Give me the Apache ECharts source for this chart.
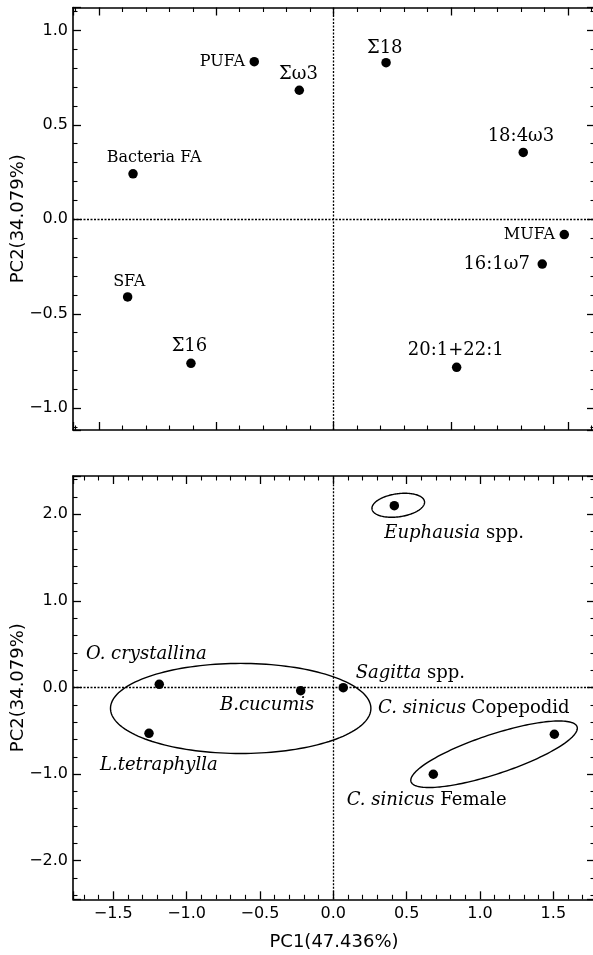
<!DOCTYPE html>
<html><head><meta charset="utf-8">
<script src="https://cdn.jsdelivr.net/npm/echarts@6/dist/echarts.min.js"></script>
<style>html,body{margin:0;padding:0;background:#fff}#c{width:593px;height:955px}</style>
</head><body><div id="c"></div>
<script>
// ---- Loadings (upper panel) ----
const loadingNames = ['PUFA', 'Σω3', 'Σ18', '18:4ω3', 'Bacteria FA', 'SFA', 'Σ16', 'MUFA', '16:1ω7', '20:1+22:1'];
const loadingPC1 = [-0.338, -0.146, 0.224, 0.809, -0.855, -0.878, -0.608, 0.984, 0.890, 0.525];
const loadingPC2 = [0.834, 0.683, 0.829, 0.354, 0.241, -0.411, -0.762, -0.081, -0.237, -0.783];

// ---- Scores (lower panel) ----
const speciesNames = ['Euphausia spp.', 'O. crystallina', 'L.tetraphylla', 'B.cucumis', 'Sagitta spp.', 'C. sinicus Copepodid', 'C. sinicus Female'];
const speciesPC1 = [0.416, -1.186, -1.256, -0.222, 0.068, 1.507, 0.682];
const speciesPC2 = [2.099, 0.037, -0.529, -0.037, -0.002, -0.540, -1.002];

// group ellipses: centre and two semi-axis vectors (PC units)
const ellipseCX = [0.443, -0.631, 1.096];
const ellipseCY = [2.104, -0.242, -0.771];
const ellipseAX = [0.179, 0.8875, 0.566];
const ellipseAY = [0.043, 0, 0.317];
const ellipseBX = [0.011, 0, 0.042];
const ellipseBY = [-0.132, 0.52, -0.217];

// axis tick label values
const xTickLabels = [-1.5, -1.0, -0.5, 0.0, 0.5, 1.0, 1.5];
const yTickLabelsTop = [-1.0, -0.5, 0.0, 0.5, 1.0];
const yTickLabelsBottom = [-2.0, -1.0, 0.0, 1.0, 2.0];

// ---- label layout (kept separate from data) ----
const loadingLabelAlign = ['right', 'center', 'center', 'center', 'center', 'center', 'center', 'right', 'right', 'center'];
const loadingLabelOffset = [[-9.3, 0], [-0.8, -16], [-1.3, -14.7], [-2.3, -15.6], [21, -16.2], [1.6, -15], [-1.5, -16.6], [-9.3, 0], [-12.3, 0], [-0.9, -16.5]];
const loadingLabelSize = [16, 18, 18, 18, 16, 16, 18, 16, 18, 18];
const speciesLabelRich = ['{i|Euphausia} spp.', '{i|O. crystallina}', '{i|L.tetraphylla}', '{i|B.cucumis}', '{i|Sagitta} spp.', '{i|C. sinicus} Copepodid', '{i|C. sinicus} Female'];
const speciesLabelOffset = [[-10, 27.5], [-73.3, -30], [-49, 32], [-80.7, 15], [12.4, -14.7], [-176.3, -26], [-86.6, 25.7]];

const SANS = 'DejaVu Sans';
const SERIF = 'DejaVu Serif';

function fmtTick(allowed) {
  return function (v) {
    for (const a of allowed) {
      if (Math.abs(a - v) < 1e-6) {
        return (v < -1e-9 ? '\u2212' : '') + Math.abs(v).toFixed(1);
      }
    }
    return '';
  };
}

function axisCommon(extra) {
  return Object.assign({
    type: 'value',
    axisLine: { show: true, onZero: false, lineStyle: { color: '#000', width: 1.6 } },
    axisTick: { show: true, inside: true, length: 8, lineStyle: { color: '#000', width: 1.3 } },
    minorTick: { show: true, splitNumber: 5, length: 4.5, lineStyle: { color: '#000', width: 1.1 } },
    splitLine: { show: false },
    minorSplitLine: { show: false },
    axisLabel: { show: false }
  }, extra);
}

const labelStyle = { color: '#000', fontFamily: SANS, fontSize: 16 };

const xAxes = [
  axisCommon({ gridIndex: 0, position: 'bottom', min: -1.111, max: 1.115, splitNumber: 5 }),
  axisCommon({ gridIndex: 0, position: 'top', min: -1.111, max: 1.115, splitNumber: 5 }),
  axisCommon({ gridIndex: 1, position: 'bottom', min: -1.774, max: 1.784, splitNumber: 7,
    axisLabel: Object.assign({ show: true, margin: 7, formatter: fmtTick(xTickLabels), showMinLabel: false, showMaxLabel: false }, labelStyle),
    name: 'PC1(47.436%)', nameLocation: 'middle', nameGap: 34, nameMoveOverlap: false,
    nameTextStyle: { color: '#000', fontFamily: SANS, fontSize: 18 } }),
  axisCommon({ gridIndex: 1, position: 'top', min: -1.774, max: 1.784, splitNumber: 7 })
];

const yAxes = [
  axisCommon({ gridIndex: 0, position: 'left', min: -1.115, max: 1.121, splitNumber: 5,
    axisLabel: Object.assign({ show: true, margin: 5, formatter: fmtTick(yTickLabelsTop), showMinLabel: false, showMaxLabel: false }, labelStyle),
    name: 'PC2(34.079%)', nameLocation: 'middle', nameGap: 46, nameMoveOverlap: false,
    nameTextStyle: { color: '#000', fontFamily: SANS, fontSize: 18 } }),
  axisCommon({ gridIndex: 0, position: 'right', min: -1.115, max: 1.121, splitNumber: 5 }),
  axisCommon({ gridIndex: 1, position: 'left', min: -2.446, max: 2.442, splitNumber: 5,
    axisLabel: Object.assign({ show: true, margin: 5, formatter: fmtTick(yTickLabelsBottom), showMinLabel: false, showMaxLabel: false }, labelStyle),
    name: 'PC2(34.079%)', nameLocation: 'middle', nameGap: 46, nameMoveOverlap: false,
    nameTextStyle: { color: '#000', fontFamily: SANS, fontSize: 18 } }),
  axisCommon({ gridIndex: 1, position: 'right', min: -2.446, max: 2.442, splitNumber: 5 })
];

const zeroLines = {
  silent: true, symbol: ['none', 'none'], animation: false,
  label: { show: false },
  lineStyle: { color: '#000', type: [2, 1.5], width: 1.3, opacity: 1 },
  data: [{ xAxis: 0 }, { yAxis: 0 }]
};

const loadingData = loadingNames.map((n, i) => ({
  name: n,
  value: [loadingPC1[i], loadingPC2[i]],
  label: {
    show: true, position: 'inside', formatter: n,
    align: loadingLabelAlign[i], verticalAlign: 'middle',
    offset: loadingLabelOffset[i],
    fontSize: loadingLabelSize[i], fontFamily: SERIF, color: '#000'
  }
}));

const speciesData = speciesNames.map((n, i) => ({
  name: n,
  value: [speciesPC1[i], speciesPC2[i]],
  label: {
    show: true, position: 'inside', formatter: speciesLabelRich[i],
    align: 'left', verticalAlign: 'middle',
    offset: speciesLabelOffset[i],
    fontSize: 18, fontFamily: SERIF, color: '#000',
    rich: { i: { fontStyle: 'italic', fontSize: 18, fontFamily: SERIF, color: '#000' } }
  }
}));

const ellipseData = ellipseCX.map((c, i) => [c, ellipseCY[i], ellipseAX[i], ellipseAY[i], ellipseBX[i], ellipseBY[i]]);

const chart = echarts.init(document.getElementById('c'), null, { renderer: 'canvas' });
chart.setOption({
  animation: false,
  backgroundColor: '#fff',
  grid: [
    { left: 73, top: 7.5, width: 522, height: 422.5, containLabel: false, outerBoundsMode: 'none' },
    { left: 73, top: 476, width: 522, height: 423.3, containLabel: false, outerBoundsMode: 'none' }
  ],
  xAxis: xAxes,
  yAxis: yAxes,
  series: [
    {
      type: 'scatter', xAxisIndex: 0, yAxisIndex: 0,
      symbol: 'circle', symbolSize: 9.5,
      itemStyle: { color: '#000', opacity: 1 },
      data: loadingData,
      markLine: zeroLines,
      z: 3
    },
    {
      type: 'custom', xAxisIndex: 2, yAxisIndex: 2,
      dimensions: ['cx', 'cy', 'ax', 'ay', 'bx', 'by'],
      encode: { x: 0, y: 1 },
      data: ellipseData,
      silent: true,
      renderItem: function (params, api) {
        const cx = api.value(0), cy = api.value(1), ax = api.value(2), ay = api.value(3), bx = api.value(4), by = api.value(5);
        const pts = [];
        const N = 160;
        for (let k = 0; k < N; k++) {
          const t = 2 * Math.PI * k / N;
          pts.push(api.coord([cx + ax * Math.cos(t) + bx * Math.sin(t), cy + ay * Math.cos(t) + by * Math.sin(t)]));
        }
        return { type: 'polygon', shape: { points: pts }, style: { fill: 'transparent', stroke: '#000', lineWidth: 1.4 } };
      },
      z: 2
    },
    {
      type: 'scatter', xAxisIndex: 2, yAxisIndex: 2,
      symbol: 'circle', symbolSize: 9.5,
      itemStyle: { color: '#000', opacity: 1 },
      data: speciesData,
      markLine: zeroLines,
      z: 3
    }
  ]
});
</script>
</body></html>
